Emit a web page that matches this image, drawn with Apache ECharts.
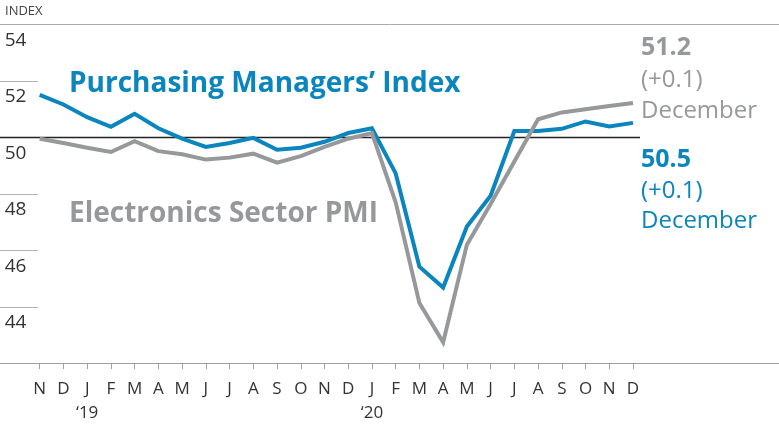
<!DOCTYPE html>
<html>
<head>
<meta charset="utf-8">
<script src="https://cdn.jsdelivr.net/npm/echarts@6/dist/echarts.min.js"></script>
<style>
html,body{margin:0;padding:0;background:#fff;}
#chart{width:779px;height:425px;}
</style>
</head>
<body>
<div id="chart"></div>
<script>
var months = ['N','D','J','F','M','A','M','J','J','A','S','O','N','D','J','F','M','A','M','J','J','A','S','O','N','D'];
var yearLabels = {2: '\u201819', 14: '\u201820'};
var pmi = [51.49,51.15,50.70,50.36,50.82,50.31,49.94,49.65,49.79,49.97,49.55,49.62,49.83,50.14,50.31,48.71,45.41,44.67,46.83,47.92,50.21,50.21,50.29,50.55,50.37,50.5];
var electronics = [49.94,49.79,49.62,49.47,49.85,49.50,49.39,49.20,49.27,49.41,49.09,49.32,49.65,49.94,50.14,47.69,44.12,42.73,46.19,47.63,49.13,50.63,50.87,50.98,51.10,51.2];
var yTicks = [44,46,48,50,52,54];
var shortGridValues = [44,46,48,52];

var BLUE = '#0a85bd';
var GRAY = '#97989b';
var FONT = '"Open Sans", "Liberation Sans", sans-serif';

var chart = echarts.init(document.getElementById('chart'));
chart.setOption({
  animation: false,
  backgroundColor: '#fff',
  grid: {left: 39.7, right: 146, top: 24, bottom: 54, containLabel: false},
  xAxis: {
    type: 'category',
    data: months,
    boundaryGap: false,
    axisLine: {show: false},
    axisTick: {show: true, length: 6, lineStyle: {color: '#a0a0a0', width: 1}},
    axisLabel: {
      margin: 14,
      color: '#333',
      fontFamily: FONT,
      fontSize: 17,
      lineHeight: 24,
      interval: 0,
      formatter: function (v, i) { return yearLabels[i] ? v + '\n' + yearLabels[i] : v; }
    },
    splitLine: {show: false}
  },
  yAxis: {
    type: 'value',
    min: 42, max: 54, interval: 2,
    axisLine: {show: false},
    axisTick: {show: false},
    splitLine: {show: false},
    axisLabel: {
      inside: false,
      margin: 35,
      align: 'left',
      verticalAlign: 'top',
      padding: [7, 0, 0, 0],
      color: '#333',
      fontFamily: FONT,
      fontSize: 19,
      formatter: function (v) { return yTicks.indexOf(v) >= 0 ? String(v) : ''; }
    }
  },
  series: [
    {name: 'Purchasing Managers\u2019 Index', type: 'line', data: pmi, symbol: 'none',
     lineStyle: {color: BLUE, width: 4, join: 'miter'}, z: 3},
    {name: 'Electronics Sector PMI', type: 'line', data: electronics, symbol: 'none',
     lineStyle: {color: GRAY, width: 4, join: 'miter'}, z: 4}
  ]
});

function py(v) { return chart.convertToPixel({yAxisIndex: 0}, v); }
var W = 779;
var g = [];
shortGridValues.forEach(function (v) {
  var y = Math.round(py(v)) + 0.5;
  g.push({type: 'line', shape: {x1: 0, y1: y, x2: 38, y2: y}, style: {stroke: '#b0b0b0', lineWidth: 1}, z: 1});
});
var yTop = Math.round(py(54)) + 0.5;
g.push({type: 'line', shape: {x1: 0, y1: yTop, x2: W, y2: yTop}, style: {stroke: '#a8a8a8', lineWidth: 1}, z: 1});
var yBase = Math.round(py(42)) + 0.5;
g.push({type: 'line', shape: {x1: 0, y1: yBase, x2: W, y2: yBase}, style: {stroke: '#a0a0a0', lineWidth: 1}, z: 1});
var y50 = Math.round(py(50)) + 0.5;
g.push({type: 'line', shape: {x1: 0, y1: y50, x2: 640, y2: y50}, style: {stroke: '#222', lineWidth: 1.3}, z: 2});

g.push({type: 'text', left: 5, top: 5, style: {text: 'INDEX', fill: '#444', font: '13px ' + FONT}, z: 5});
g.push({type: 'text', left: 69, top: 70, style: {text: 'Purchasing Managers\u2019 Index', fill: BLUE, font: 'bold 28px ' + FONT}, z: 5});
g.push({type: 'text', left: 69, top: 200, style: {text: 'Electronics Sector PMI', fill: GRAY, font: 'bold 28px ' + FONT}, z: 5});

g.push({type: 'text', left: 641, top: 35, style: {text: '51.2', fill: GRAY, font: 'bold 25px ' + FONT}, z: 5});
g.push({type: 'text', left: 641, top: 65, style: {text: '(+0.1)\nDecember', fill: GRAY, font: '24px ' + FONT, lineHeight: 31}, z: 5});
g.push({type: 'text', left: 641, top: 147, style: {text: '50.5', fill: BLUE, font: 'bold 25px ' + FONT}, z: 5});
g.push({type: 'text', left: 641, top: 176, style: {text: '(+0.1)\nDecember', fill: BLUE, font: '24px ' + FONT, lineHeight: 30}, z: 5});

chart.setOption({graphic: {elements: g}});
</script>
</body>
</html>
